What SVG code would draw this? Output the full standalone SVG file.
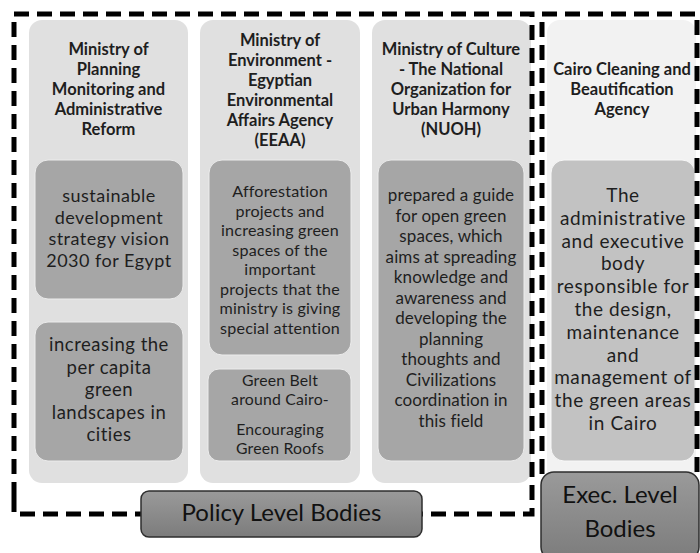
<svg xmlns="http://www.w3.org/2000/svg" width="700" height="553" viewBox="0 0 700 553">
  <defs>
    <linearGradient id="btnGrad" x1="0" y1="0" x2="0" y2="1">
      <stop offset="0" stop-color="#9a9a9a"/>
      <stop offset="1" stop-color="#7c7c7c"/>
    </linearGradient>
  </defs>
  <style>
    .col { fill: #e0e0e0; }
    .col-light { fill: #f2f2f2; }
    .item { fill: #a6a6a6; stroke: #ececec; stroke-width: 1; }
    .item-light { fill: #c2c2c2; stroke: #f8f8f8; stroke-width: 1; }
    .level { fill: url(#btnGrad); stroke: #2e2e2e; stroke-width: 1.5; }
    .dash { fill: none; stroke: #000; stroke-width: 5; stroke-dasharray: 15 8; }
    text { font-family: Lato, "Liberation Sans", sans-serif; fill: #1e1e1e; text-anchor: middle; }
    .hd { font-weight: bold; font-size: 16.5px; }
    .lvl { font-size: 24px; fill: #111; }
  </style>

  <!-- Policy level: ministry columns -->
  <g id="planning">
    <rect class="col" x="29" y="20" width="159" height="463" rx="13"/>
    <text class="hd" x="108.5" y="55">Ministry of</text>
    <text class="hd" x="108.5" y="75">Planning</text>
    <text class="hd" x="108.5" y="95">Monitoring and</text>
    <text class="hd" x="108.5" y="115">Administrative</text>
    <text class="hd" x="108.5" y="135">Reform</text>
  </g>
  <g id="planning-vision">
    <rect class="item" x="35" y="160" width="148" height="139" rx="13"/>
    <g style="font-size:18px;letter-spacing:0.5px">
      <text x="109" y="202">sustainable</text>
      <text x="109" y="223.5">development</text>
      <text x="109" y="245">strategy vision</text>
      <text x="109" y="266.5">2030 for Egypt</text>
    </g>
  </g>
  <g id="planning-per-capita">
    <rect class="item" x="35" y="322" width="148" height="139" rx="13"/>
    <g style="font-size:18.5px;letter-spacing:0.5px">
      <text x="109" y="351">increasing the</text>
      <text x="109" y="373.5">per capita</text>
      <text x="109" y="396">green</text>
      <text x="109" y="418.5">landscapes in</text>
      <text x="109" y="441">cities</text>
    </g>
  </g>

  <g id="environment">
    <rect class="col" x="200" y="20" width="160" height="463" rx="13"/>
    <text class="hd" x="280" y="46">Ministry of</text>
    <text class="hd" x="280" y="66">Environment -</text>
    <text class="hd" x="280" y="86">Egyptian</text>
    <text class="hd" x="280" y="106">Environmental</text>
    <text class="hd" x="280" y="126">Affairs Agency</text>
    <text class="hd" x="280" y="146">(EEAA)</text>
  </g>
  <g id="environment-afforestation">
    <rect class="item" x="209" y="160" width="142" height="195" rx="13"/>
    <g style="font-size:16.1px;letter-spacing:0.2px">
      <text x="280" y="197">Afforestation</text>
      <text x="280" y="216.5">projects and</text>
      <text x="280" y="236">increasing green</text>
      <text x="280" y="255.5">spaces of the</text>
      <text x="280" y="275">important</text>
      <text x="280" y="294.5">projects that the</text>
      <text x="280" y="314">ministry is giving</text>
      <text x="280" y="333.5">special attention</text>
    </g>
  </g>
  <g id="environment-green-belt">
    <rect class="item" x="208" y="369" width="143" height="92" rx="11"/>
    <g style="font-size:15.8px;letter-spacing:0.2px">
      <text x="280" y="386">Green Belt</text>
      <text x="280" y="405">around Cairo-</text>
      <text x="280" y="435">Encouraging</text>
      <text x="280" y="454">Green Roofs</text>
    </g>
  </g>

  <g id="culture">
    <rect class="col" x="372" y="20" width="159" height="463" rx="13"/>
    <text class="hd" x="451" y="55">Ministry of Culture</text>
    <text class="hd" x="451" y="75">- The National</text>
    <text class="hd" x="451" y="95">Organization for</text>
    <text class="hd" x="451" y="115">Urban Harmony</text>
    <text class="hd" x="451" y="135">(NUOH)</text>
  </g>
  <g id="culture-guide">
    <rect class="item" x="378" y="160" width="146" height="301" rx="13"/>
    <g style="font-size:17px;letter-spacing:0.1px">
      <text x="451" y="201">prepared a guide</text>
      <text x="451" y="221.5">for open green</text>
      <text x="451" y="242">spaces, which</text>
      <text x="451" y="262.5">aims at spreading</text>
      <text x="451" y="283">knowledge and</text>
      <text x="451" y="303.5">awareness and</text>
      <text x="451" y="324">developing the</text>
      <text x="451" y="344.5">planning</text>
      <text x="451" y="365">thoughts and</text>
      <text x="451" y="385.5">Civilizations</text>
      <text x="451" y="406">coordination in</text>
      <text x="451" y="426.5">this field</text>
    </g>
  </g>

  <!-- Executive level -->
  <g id="cairo-agency">
    <rect class="col-light" x="547" y="20" width="149" height="463" rx="13"/>
    <text class="hd" x="622" y="75">Cairo Cleaning and</text>
    <text class="hd" x="622" y="95">Beautification</text>
    <text class="hd" x="622" y="115">Agency</text>
  </g>
  <g id="cairo-agency-role">
    <rect class="item-light" x="551" y="160" width="144" height="301" rx="13"/>
    <g style="font-size:19px;letter-spacing:0.6px">
      <text x="623" y="202">The</text>
      <text x="623" y="224.8">administrative</text>
      <text x="623" y="247.6">and executive</text>
      <text x="623" y="270.4">body</text>
      <text x="623" y="293.2">responsible for</text>
      <text x="623" y="316">the design,</text>
      <text x="623" y="338.8">maintenance</text>
      <text x="623" y="361.6">and</text>
      <text x="623" y="384.4">management of</text>
      <text x="623" y="407.2">the green areas</text>
      <text x="623" y="430">in Cairo</text>
    </g>
  </g>

  <!-- Dashed group outlines -->
  <g id="connectors">
    <path class="dash" d="M 14 497 L 14 514 L 141 514 M 14 497 L 14 14 L 532 14 L 532 514 L 422 514"/>
    <path class="dash" d="M 542 474 L 542 14 L 697 14 L 697 480"/>
  </g>

  <g id="policy-level">
    <rect class="level" x="141" y="491" width="281" height="46" rx="8"/>
    <text class="lvl" x="281.5" y="521">Policy Level Bodies</text>
  </g>
  <g id="exec-level">
    <rect class="level" x="541" y="472" width="158" height="88" rx="13"/>
    <text class="lvl" x="620" y="503">Exec. Level</text>
    <text class="lvl" x="620" y="537">Bodies</text>
  </g>
</svg>
